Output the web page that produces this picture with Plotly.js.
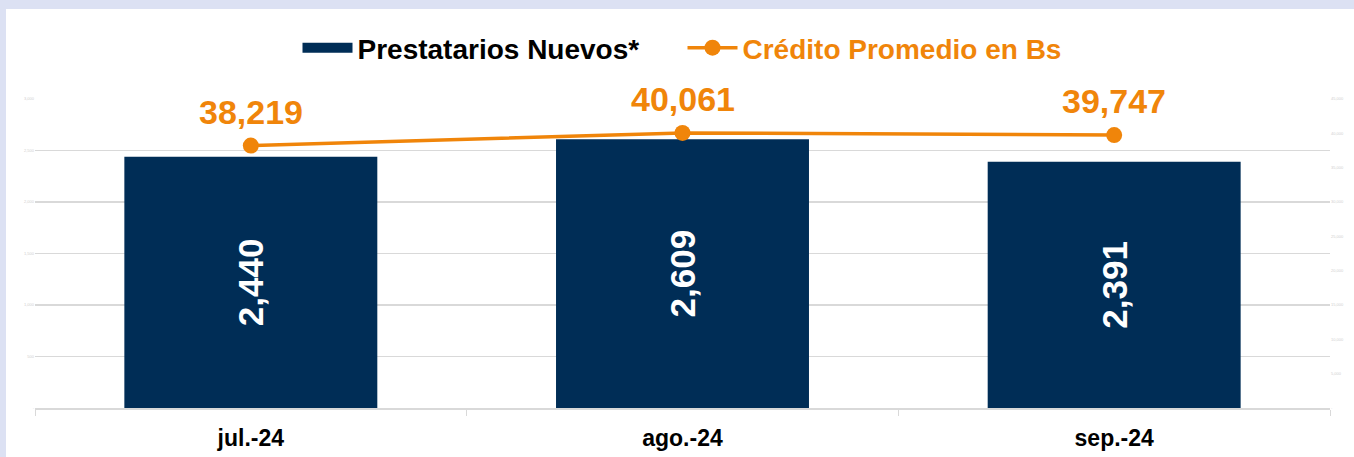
<!DOCTYPE html>
<html>
<head>
<meta charset="utf-8">
<script src="https://cdn.plot.ly/plotly-3.0.1.min.js"></script>
<style>
  html, body { margin: 0; padding: 0; background: #dce1f3; width: 1354px; height: 457px; overflow: hidden; }
  #chart { position: absolute; left: 6px; top: 9px; width: 1348px; height: 448px; background: #ffffff; }
</style>
</head>
<body>
<div id="chart"></div>
<script>
const categories = ['jul.-24', 'ago.-24', 'sep.-24'];
const prestatarios = [2440, 2609, 2391];
const prestatariosLabels = ['2,440', '2,609', '2,391'];
const credito = [38219, 40061, 39747];
const creditoLabels = ['38,219', '40,061', '39,747'];
const leftTickVals = [0, 500, 1000, 1500, 2000, 2500, 3000];
const leftTickText = ['-', '500', '1,000', '1,500', '2,000', '2,500', '3,000'];
const rightTickVals = [0, 5000, 10000, 15000, 20000, 25000, 30000, 35000, 40000, 45000];
const rightTickText = ['-', '5,000', '10,000', '15,000', '20,000', '25,000', '30,000', '35,000', '40,000', '45,000'];

const NAVY = '#002d56';
const ORANGE = '#f0850a';
const FONT = 'Liberation Sans, Arial, sans-serif';

const traces = [
  {
    type: 'scatter', mode: 'lines', x: [categories[0]], y: [null],
    name: 'Prestatarios Nuevos*', line: { color: NAVY, width: 15 },
    hoverinfo: 'skip', showlegend: true
  },
  {
    type: 'bar', x: categories, y: prestatarios, name: 'Prestatarios Nuevos*',
    marker: { color: NAVY }, showlegend: false,
    text: prestatariosLabels, textposition: 'inside', insidetextanchor: 'middle',
    textangle: -90, insidetextfont: { color: '#ffffff', size: 35, family: FONT, weight: 'bold' },
    constraintext: 'none', cliponaxis: false
  },
  {
    type: 'scatter', mode: 'lines+markers', x: categories, y: credito, yaxis: 'y2',
    name: '<span style="color:' + ORANGE + '">Crédito Promedio en Bs</span>',
    line: { color: ORANGE, width: 3.5 }, marker: { color: ORANGE, size: 16 },
    cliponaxis: false
  }
];

const annotations = categories.map((c, i) => ({
  x: c, y: credito[i], xref: 'x', yref: 'y2', text: creditoLabels[i],
  showarrow: false, yanchor: 'middle', yshift: 34,
  font: { color: ORANGE, size: 34, family: FONT, weight: 'bold' }
}));

const layout = {
  width: 1348, height: 448,
  paper_bgcolor: '#ffffff', plot_bgcolor: '#ffffff',
  margin: { l: 29, r: 24, t: 90, b: 49 },
  font: { family: FONT },
  bargap: 0.414,
  showlegend: true,
  legend: {
    orientation: 'h', x: 0.5, xanchor: 'center', y: 0.913, yanchor: 'middle',
    yref: 'container',
    font: { size: 28, color: '#000000', family: FONT, weight: 'bold' },
    itemwidth: 50, traceorder: 'normal', entrywidth: 320
  },
  xaxis: {
    type: 'category', showline: true, linecolor: '#d9d9d9', linewidth: 1.5,
    ticks: 'outside', tickson: 'boundaries', ticklen: 6, tickcolor: '#d9d9d9',
    tickfont: { size: 23, color: '#000000', family: FONT, weight: 'bold' },
    ticklabelstandoff: 9, showgrid: false, zeroline: false
  },
  yaxis: {
    range: [0, 3000], tickvals: leftTickVals, ticktext: leftTickText,
    showgrid: true, gridcolor: '#d9d9d9', gridwidth: 1.5, zeroline: false,
    showline: false, tickfont: { size: 4, color: '#d0d0d0' }, ticks: ''
  },
  yaxis2: {
    range: [0, 45000], overlaying: 'y', side: 'right',
    tickvals: rightTickVals, ticktext: rightTickText,
    showgrid: false, zeroline: false, showline: false,
    tickfont: { size: 4, color: '#d0d0d0' }, ticks: ''
  },
  annotations: annotations
};

Plotly.newPlot('chart', traces, layout, { displayModeBar: false, staticPlot: true });
</script>
</body>
</html>
